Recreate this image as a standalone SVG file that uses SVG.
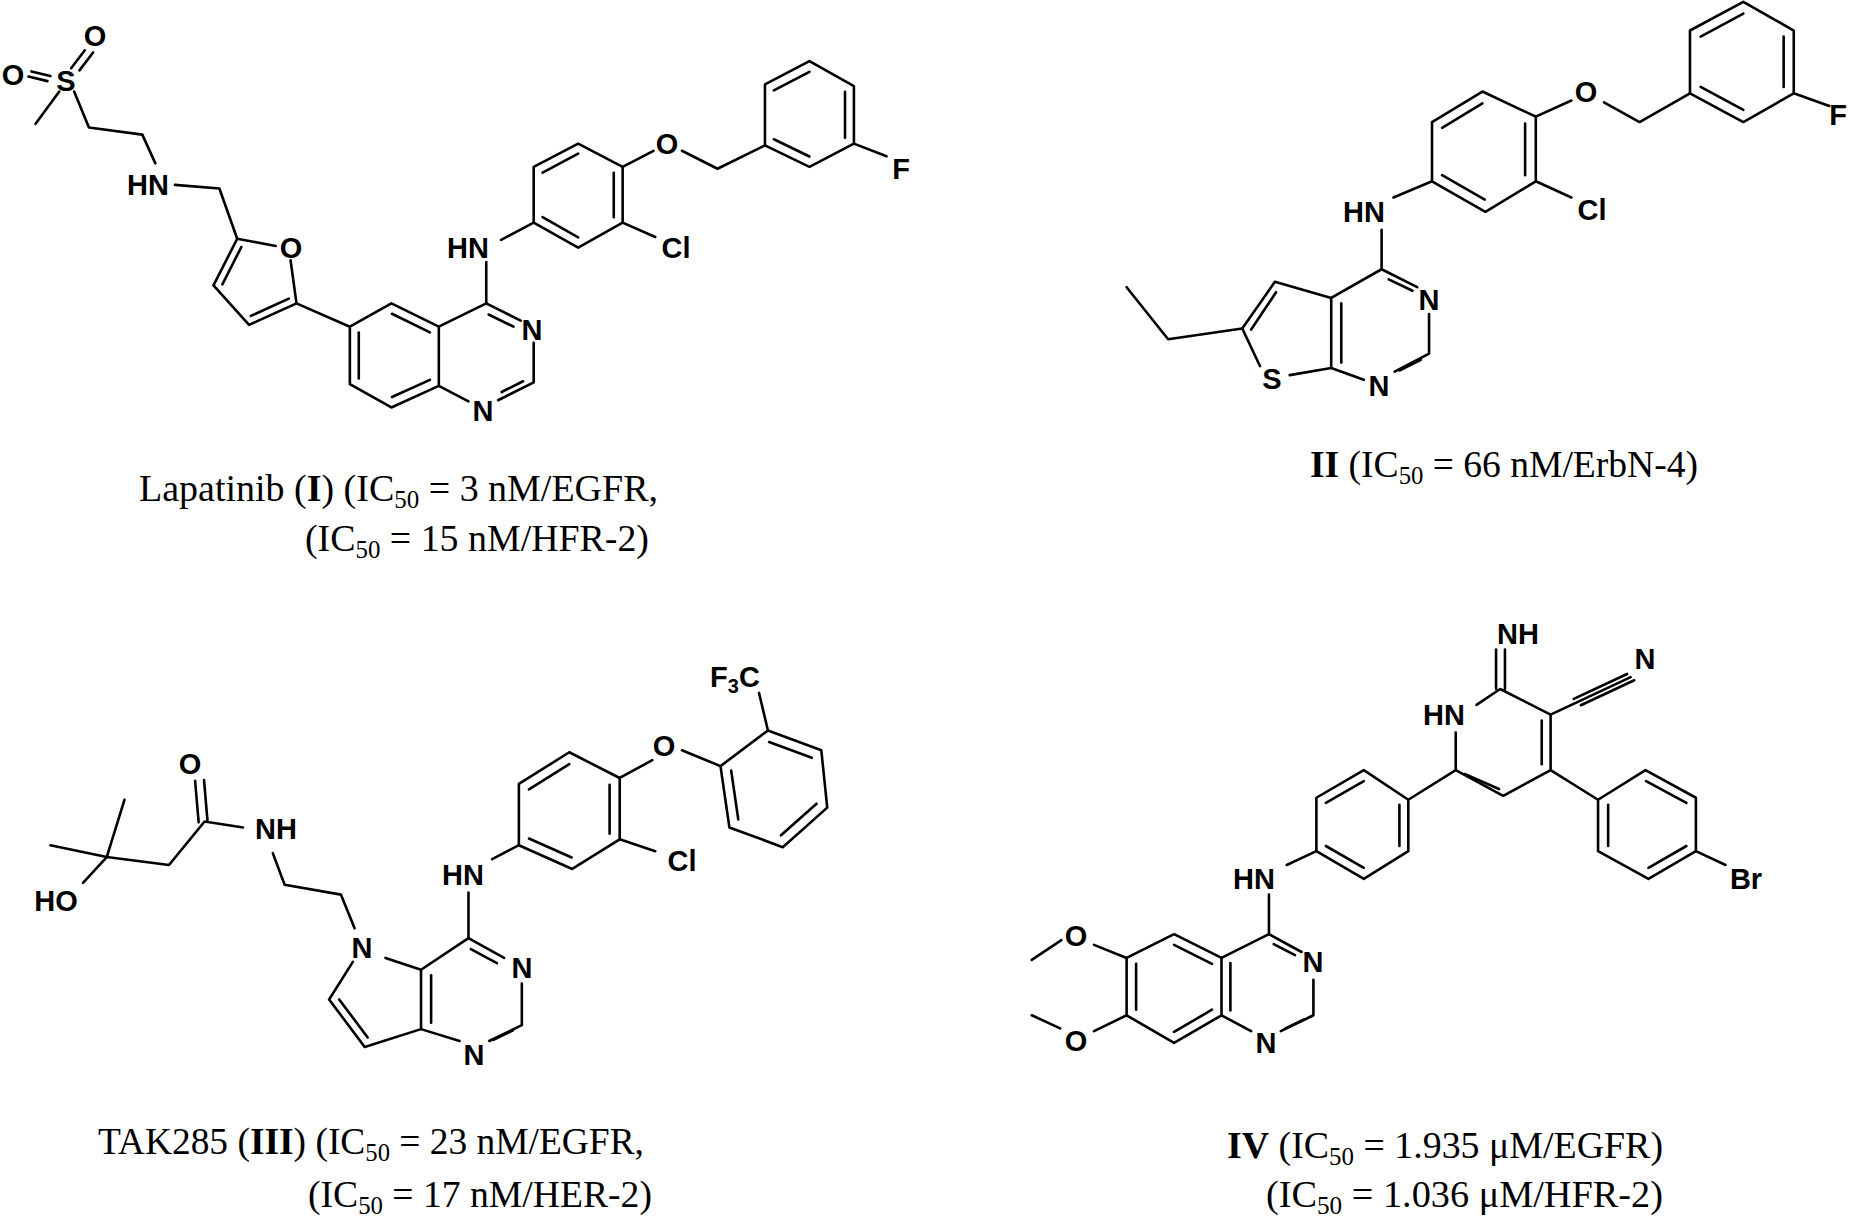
<svg xmlns="http://www.w3.org/2000/svg" width="1850" height="1217" viewBox="0 0 1850 1217">
<style>
.b line,.b polyline,.b polygon{stroke:#000;stroke-width:2.6;fill:none;stroke-linecap:round;stroke-linejoin:round;vector-effect:non-scaling-stroke}
.a{font-family:"Liberation Sans",Arial,sans-serif;font-size:29px;font-weight:bold;text-anchor:middle}
.c{font-family:"Liberation Serif","Times New Roman",serif;font-size:38px}
.s{font-size:25px}
</style>
<rect width="1850" height="1217" fill="#fff"/>
<!-- Lapatinib -->
<g id="mol1">
<g class="b" transform="scale(0.593,0.359)">
<line x1="120" y1="190" x2="143" y2="140"/><line x1="134" y1="196" x2="157" y2="146"/>
<line x1="80" y1="226" x2="48" y2="213"/><line x1="85" y1="212" x2="53" y2="199"/>
<line x1="100" y1="255" x2="60" y2="345"/>
<polyline points="125,255 150,355 240,375 262,455"/>
<polyline points="295,515 370,525 400,665 465,685"/>
<polyline points="490,725 500,845 420,905 360,795 400,665"/>
<line x1="375" y1="792" x2="407" y2="688"/><line x1="487" y1="832" x2="423" y2="880"/>
<line x1="500" y1="845" x2="590" y2="910"/>
<polygon points="590,910 660,845 740,910 740,1075 660,1135 590,1070"/>
<line x1="725" y1="926" x2="661" y2="874"/><line x1="605" y1="926" x2="605" y2="1054"/><line x1="661" y1="1106" x2="725" y2="1058"/>
<polyline points="740,910 820,845 878,893"/><line x1="824" y1="876" x2="866" y2="910"/>
<polyline points="900,955 900,1065 840,1115"/><line x1="882" y1="1062" x2="846" y2="1092"/>
<line x1="790" y1="1118" x2="740" y2="1075"/>
<line x1="820" y1="845" x2="820" y2="730"/><line x1="845" y1="668" x2="900" y2="620"/>
<polygon points="900,620 900,465 975,400 1050,465 1050,620 975,690"/>
<line x1="915" y1="481" x2="975" y2="428"/><line x1="1035" y1="481" x2="1035" y2="605"/><line x1="975" y1="661" x2="915" y2="605"/>
<line x1="1050" y1="620" x2="1105" y2="660"/><line x1="1050" y1="465" x2="1102" y2="420"/>
<polyline points="1150,420 1210,470 1290,405"/>
<polygon points="1290,405 1290,235 1365,170 1440,240 1440,400 1365,465"/>
<line x1="1305" y1="252" x2="1365" y2="200"/><line x1="1425" y1="256" x2="1425" y2="384"/><line x1="1365" y1="436" x2="1305" y2="388"/>
<line x1="1440" y1="400" x2="1495" y2="435"/>
</g>
<text class="a" x="95" y="46">O</text><text class="a" x="66" y="91">S</text><text class="a" x="13" y="85">O</text>
<text class="a" x="148" y="195">HN</text><text class="a" x="291" y="258">O</text><text class="a" x="468" y="258">HN</text>
<text class="a" x="532" y="340">N</text><text class="a" x="483" y="421">N</text><text class="a" x="676" y="258">Cl</text>
<text class="a" x="667" y="154">O</text><text class="a" x="901" y="179">F</text>
<text class="c" x="139" y="501" textLength="519" lengthAdjust="spacingAndGlyphs">Lapatinib (<tspan font-weight="bold">I</tspan>) (IC<tspan class="s" dy="7">50</tspan><tspan dy="-7"> = 3 nM/EGFR,</tspan></text>
<text class="c" x="305" y="551" textLength="344" lengthAdjust="spacingAndGlyphs">(IC<tspan class="s" dy="7">50</tspan><tspan dy="-7"> = 15 nM/HFR-2)</tspan></text>
</g>
<!-- II -->
<g id="mol2">
<g class="b" transform="translate(925,0) scale(0.593,0.359)">
<polygon points="855,505 855,340 940,255 1030,325 1030,505 945,590"/>
<line x1="872" y1="356" x2="940" y2="288"/><line x1="1012" y1="344" x2="1012" y2="488"/><line x1="944" y1="556" x2="872" y2="488"/>
<line x1="1030" y1="325" x2="1090" y2="280"/>
<polyline points="1145,285 1205,340 1290,260"/>
<polygon points="1290,260 1290,85 1380,5 1465,85 1465,260 1380,340"/>
<line x1="1308" y1="102" x2="1380" y2="38"/><line x1="1448" y1="102" x2="1448" y2="242"/><line x1="1380" y1="306" x2="1308" y2="242"/>
<line x1="1465" y1="260" x2="1525" y2="295"/>
<line x1="1030" y1="505" x2="1090" y2="550"/><line x1="855" y1="505" x2="790" y2="550"/>
<line x1="770" y1="640" x2="770" y2="750"/>
<polyline points="830,800 770,750 685,830 685,1025 740,1058"/>
<line x1="782" y1="778" x2="822" y2="810"/>
<polyline points="850,875 850,985 792,1035"/><line x1="836" y1="1002" x2="800" y2="1032"/>
<line x1="702" y1="845" x2="702" y2="1010"/>
<polyline points="685,830 590,785 535,915 565,1020"/><line x1="592" y1="814" x2="550" y2="918"/>
<line x1="615" y1="1045" x2="685" y2="1025"/>
<polyline points="535,915 410,945 340,800"/>
</g>
<text class="a" x="1586" y="102">O</text><text class="a" x="1838" y="125">F</text><text class="a" x="1592" y="220">Cl</text>
<text class="a" x="1364" y="222">HN</text><text class="a" x="1429" y="310">N</text><text class="a" x="1379" y="396">N</text><text class="a" x="1272" y="389">S</text>
<text class="c" x="1310" y="477" textLength="388" lengthAdjust="spacingAndGlyphs"><tspan font-weight="bold">II</tspan> (IC<tspan class="s" dy="7">50</tspan><tspan dy="-7"> = 66 nM/ErbN-4)</tspan></text>
</g>
<!-- TAK285 -->
<g id="mol3">
<g class="b" transform="translate(0,600) scale(0.593,0.3955)">
<line x1="180" y1="650" x2="210" y2="505"/><line x1="180" y1="650" x2="85" y2="620"/><line x1="180" y1="650" x2="140" y2="715"/>
<polyline points="180,650 285,670 345,560 410,575"/>
<line x1="350" y1="560" x2="344" y2="455"/><line x1="335" y1="562" x2="329" y2="457"/>
<polyline points="460,640 480,720 575,745 598,830"/>
<line x1="650" y1="905" x2="710" y2="935"/>
<polyline points="595,915 555,1010 615,1130 710,1085 710,935 790,855 850,905"/>
<line x1="572" y1="1010" x2="620" y2="1106"/>
<line x1="727" y1="949" x2="727" y2="1069"/><line x1="794" y1="883" x2="838" y2="918"/>
<polyline points="880,970 880,1075 825,1115"/><line x1="865" y1="1088" x2="832" y2="1112"/>
<line x1="775" y1="1115" x2="710" y2="1085"/>
<line x1="790" y1="855" x2="790" y2="740"/><line x1="830" y1="655" x2="875" y2="620"/>
<polygon points="875,620 875,465 960,385 1045,450 1045,605 965,680"/>
<line x1="892" y1="479" x2="960" y2="415"/><line x1="1028" y1="467" x2="1028" y2="591"/><line x1="964" y1="651" x2="892" y2="603"/>
<line x1="1045" y1="605" x2="1105" y2="635"/><line x1="1045" y1="450" x2="1100" y2="405"/>
<line x1="1150" y1="380" x2="1215" y2="420"/>
<polygon points="1215,420 1295,330 1385,380 1395,525 1320,625 1230,575"/>
<line x1="1297" y1="359" x2="1369" y2="399"/><line x1="1233" y1="431" x2="1245" y2="555"/><line x1="1377" y1="515" x2="1317" y2="595"/>
<line x1="1295" y1="330" x2="1280" y2="235"/>
</g>
<text class="a" x="190" y="774">O</text><text class="a" x="276" y="839">NH</text><text class="a" x="56" y="911">HO</text>
<text class="a" x="362" y="958">N</text><text class="a" x="522" y="978">N</text><text class="a" x="474" y="1065">N</text>
<text class="a" x="463" y="885">HN</text><text class="a" x="682" y="871">Cl</text><text class="a" x="664" y="756">O</text>
<text class="a" x="735" y="687">F<tspan font-size="20" dy="6">3</tspan><tspan dy="-6">C</tspan></text>
<text class="c" x="98" y="1154" textLength="546" lengthAdjust="spacingAndGlyphs">TAK285 (<tspan font-weight="bold">III</tspan>) (IC<tspan class="s" dy="7">50</tspan><tspan dy="-7"> = 23 nM/EGFR,</tspan></text>
<text class="c" x="308" y="1207" textLength="344" lengthAdjust="spacingAndGlyphs">(IC<tspan class="s" dy="7">50</tspan><tspan dy="-7"> = 17 nM/HER-2)</tspan></text>
</g>
<!-- IV -->
<g id="mol4">
<g class="b" transform="translate(925,600) scale(0.593,0.3955)">
<line x1="963" y1="225" x2="963" y2="125"/><line x1="978" y1="225" x2="978" y2="125"/>
<polyline points="930,265 970,225 1055,290 1055,430 975,495 895,430 895,335"/>
<line x1="1040" y1="305" x2="1040" y2="415"/><line x1="910" y1="440" x2="968" y2="478"/>
<line x1="1055" y1="290" x2="1190" y2="195"/><line x1="1106" y1="266" x2="1196" y2="203"/><line x1="1094" y1="250" x2="1184" y2="187"/>
<line x1="895" y1="430" x2="815" y2="505"/>
<polygon points="815,505 740,430 660,500 660,635 740,705 815,635"/>
<line x1="676" y1="513" x2="740" y2="458"/><line x1="800" y1="518" x2="800" y2="622"/><line x1="740" y1="677" x2="676" y2="622"/>
<line x1="660" y1="635" x2="610" y2="670"/><line x1="580" y1="745" x2="580" y2="845"/>
<polyline points="635,890 580,845 500,905 500,1050 550,1090"/>
<polyline points="655,960 655,1050 600,1090"/>
<line x1="515" y1="918" x2="515" y2="1038"/><line x1="588" y1="870" x2="624" y2="898"/><line x1="640" y1="1060" x2="608" y2="1083"/>
<polyline points="500,905 420,845 340,905 340,1050 420,1120 500,1050"/>
<line x1="420" y1="872" x2="484" y2="920"/><line x1="356" y1="920" x2="356" y2="1036"/><line x1="420" y1="1092" x2="484" y2="1036"/>
<line x1="340" y1="905" x2="285" y2="872"/><line x1="230" y1="860" x2="180" y2="910"/>
<line x1="340" y1="1050" x2="285" y2="1090"/><line x1="228" y1="1083" x2="180" y2="1050"/>
<line x1="1055" y1="430" x2="1135" y2="505"/>
<polygon points="1135,505 1215,430 1300,500 1300,635 1220,705 1135,635"/>
<line x1="1216" y1="458" x2="1284" y2="513"/><line x1="1152" y1="518" x2="1152" y2="622"/><line x1="1220" y1="677" x2="1284" y2="622"/>
<line x1="1300" y1="635" x2="1350" y2="670"/>
</g>
<text class="a" x="1518" y="644">NH</text><text class="a" x="1444" y="725">HN</text><text class="a" x="1645" y="669">N</text>
<text class="a" x="1746" y="889">Br</text><text class="a" x="1254" y="889">HN</text><text class="a" x="1313" y="972">N</text>
<text class="a" x="1266" y="1053">N</text><text class="a" x="1076" y="946">O</text><text class="a" x="1076" y="1051">O</text>
<text class="c" x="1227" y="1158" textLength="436" lengthAdjust="spacingAndGlyphs"><tspan font-weight="bold">IV</tspan> (IC<tspan class="s" dy="7">50</tspan><tspan dy="-7"> = 1.935 μM/EGFR)</tspan></text>
<text class="c" x="1266" y="1207" textLength="397" lengthAdjust="spacingAndGlyphs">(IC<tspan class="s" dy="7">50</tspan><tspan dy="-7"> = 1.036 μM/HFR-2)</tspan></text>
</g>
</svg>
